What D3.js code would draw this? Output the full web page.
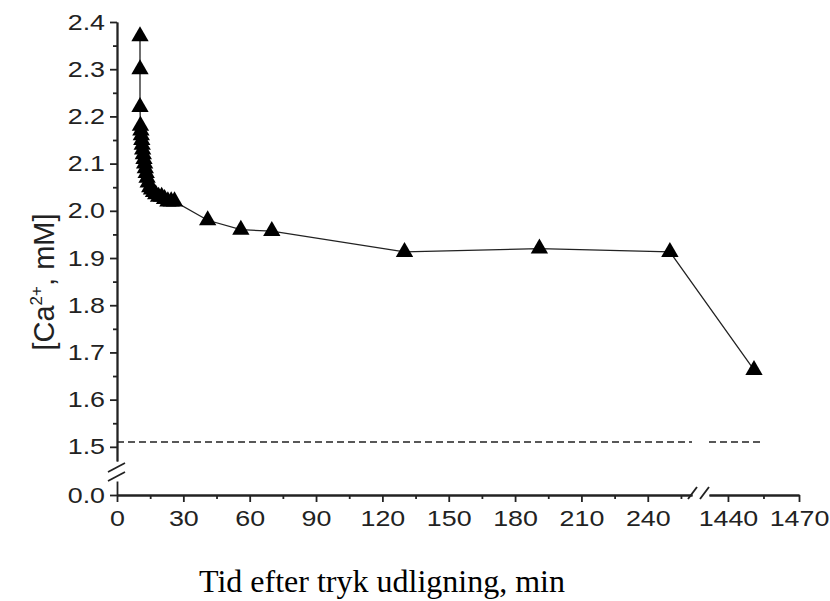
<!DOCTYPE html>
<html>
<head>
<meta charset="utf-8">
<script src="https://cdn.jsdelivr.net/npm/d3@7"></script>
<style>
  body { margin: 0; background: #fff; }
  svg text { font-family: Arial, "Liberation Sans", sans-serif; fill: #222; }
  .axis path, .axis line { stroke: #222; stroke-width: 1.8px; }
</style>
</head>
<body>
<svg id="chart" width="830" height="601"></svg>
<script>
// time after pressure equalisation (min) and Ca2+ (mM)
const timeMin = [10.4, 10.4, 10.4, 10.6, 10.8, 11.0, 11.2, 11.4, 11.6, 11.9, 12.2, 12.5,
  12.8, 13.2, 13.6, 14.1, 14.8, 15.6, 16.5, 17.5, 18.8, 20.2, 21.5, 23, 24.5, 26,
  41, 56, 70, 130, 191, 250, 1451];
const caConc = [2.37, 2.30, 2.22, 2.18, 2.17, 2.16, 2.15, 2.14, 2.13, 2.12, 2.11, 2.10,
  2.09, 2.08, 2.07, 2.06, 2.05, 2.045, 2.04, 2.035, 2.03, 2.03, 2.025, 2.02, 2.02, 2.02,
  1.98, 1.96, 1.957, 1.913, 1.92, 1.913, 1.663];
const refLevel = 1.51;

const xTicksLeft = [0, 30, 60, 90, 120, 150, 180, 210, 240];
const xMinorLeft = [15, 45, 75, 105, 135, 165, 195, 225, 255];
const xTicksRight = [1440, 1470];
const xMinorRight = [1455];
const yTicks = [1.5, 1.6, 1.7, 1.8, 1.9, 2.0, 2.1, 2.2, 2.3, 2.4];
const yMinor = [1.55, 1.65, 1.75, 1.85, 1.95, 2.05, 2.15, 2.25, 2.35];

const svg = d3.select("#chart");

// broken x axis: two linear pieces
const xL = d3.scaleLinear().domain([0, 260]).range([117, 692]);
const xR = d3.scaleLinear().domain([1432, 1470]).range([709, 799]);
const px = t => (t < 1000 ? xL(t) : xR(t));

// broken y axis
const yTop = d3.scaleLinear().domain([1.47, 2.4]).range([461, 22]);
const yBot = d3.scaleLinear().domain([0, 0.03]).range([495, 481]);

const fmtY = d3.format(".1f");
const fmtX = d3.format("d");
const SX = 1.22; // tick labels in the original are a bit wide

function addAxis(axis, tx, ty, side) {
  const g = svg.append("g").attr("class", "axis")
    .attr("transform", `translate(${tx},${ty})`)
    .call(axis);
  g.selectAll("text").style("font-size", "22px")
    .attr("transform", `scale(${SX},1)`)
    .attr("x", function () { return side === "left" ? +this.getAttribute("x") / SX : 0; });
  return g;
}

// x axis
const xAxisY = 495;
addAxis(d3.axisBottom(xL).tickValues(xTicksLeft).tickSize(7).tickSizeOuter(0).tickPadding(8).tickFormat(fmtX), 0, xAxisY);
addAxis(d3.axisBottom(xL).tickValues(xMinorLeft).tickSize(4).tickSizeOuter(0).tickFormat(""), 0, xAxisY);
addAxis(d3.axisBottom(xR).tickValues(xTicksRight).tickSize(7).tickSizeOuter(0).tickPadding(8).tickFormat(fmtX), 0, xAxisY);
addAxis(d3.axisBottom(xR).tickValues(xMinorRight).tickSize(4).tickSizeOuter(0).tickFormat(""), 0, xAxisY);

// y axis
const yAxisX = 117;
addAxis(d3.axisLeft(yTop).tickValues(yTicks).tickSize(7).tickSizeOuter(0).tickPadding(5).tickFormat(fmtY), yAxisX, 0, "left");
addAxis(d3.axisLeft(yTop).tickValues(yMinor).tickSize(4).tickSizeOuter(0).tickFormat(""), yAxisX, 0, "left");
addAxis(d3.axisLeft(yBot).tickValues([0]).tickSize(7).tickSizeOuter(0).tickPadding(5).tickFormat(fmtY), yAxisX, 0, "left");

// break marks
const brk = svg.append("g").attr("stroke", "#222").attr("stroke-width", 1.8).attr("fill", "none");
[0, 9].forEach(dy => {
  brk.append("line").attr("x1", 108).attr("y1", 472 + dy).attr("x2", 125).attr("y2", 463 + dy);
});
[0, 12].forEach(dx => {
  brk.append("line").attr("x1", 688 + dx).attr("y1", 499).attr("x2", 697 + dx).attr("y2", 487);
});

// dashed reference line
const dash = svg.append("g").attr("stroke", "#222").attr("stroke-width", 1.5).attr("stroke-dasharray", "7,4");
dash.append("line").attr("x1", xL(0)).attr("x2", xL(260)).attr("y1", yTop(refLevel)).attr("y2", yTop(refLevel));
dash.append("line").attr("x1", xR(1432)).attr("x2", xR(1455)).attr("y1", yTop(refLevel)).attr("y2", yTop(refLevel));

// data
const data = timeMin.map((t, i) => ({ t, c: caConc[i] }));
svg.append("path").datum(data)
  .attr("fill", "none").attr("stroke", "#222").attr("stroke-width", 1.3)
  .attr("d", d3.line().x(d => px(d.t)).y(d => yTop(d.c)));

svg.selectAll("path.pt").data(data).join("path")
  .attr("class", "pt")
  .attr("transform", d => `translate(${px(d.t)},${yTop(d.c)})`)
  .attr("d", d3.symbol(d3.symbolTriangle).size(130))
  .attr("fill", "#000");

// axis titles
svg.append("text")
  .attr("transform", "translate(54,282) rotate(-90)")
  .attr("text-anchor", "middle")
  .style("font-size", "29px")
  .html('[Ca<tspan dy="-12" font-size="17px">2+</tspan><tspan dy="12">, mM]</tspan>');

svg.append("text")
  .attr("x", 382).attr("y", 592)
  .attr("text-anchor", "middle")
  .style("font-family", "'Liberation Serif', 'Times New Roman', serif")
  .style("font-size", "32px")
  .style("fill", "#000")
  .text("Tid efter tryk udligning, min");
</script>
</body>
</html>
